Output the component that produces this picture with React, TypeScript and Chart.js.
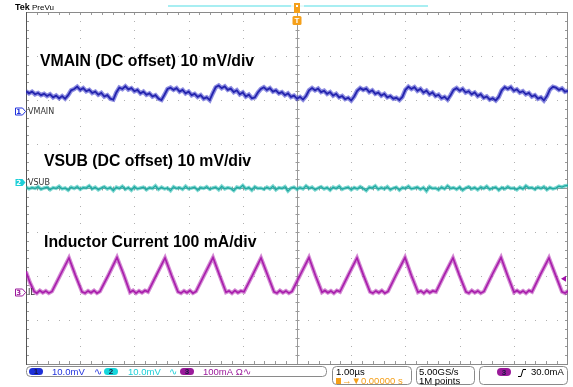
import React, { useEffect, useRef } from "react";
import { Chart, registerables } from "chart.js";

Chart.register(...registerables);

// ---- Data ----
const timeMinUs = -5;
const timeMaxUs = 5;
const divMin = -4;
const divMax = 4;

// Channel settings: screen position (divisions) of each channel's ground marker, and units per division
const channelNames = ["VMAIN", "VSUB", "IL"];
const channelPositionsDiv = [1.75, 0.14, -2.36];
const channelUnitsPerDiv = [10, 10, 100];
const channelTitles = [
  "VMAIN (DC offset) 10 mV/div",
  "VSUB (DC offset) 10 mV/div",
  "Inductor Current 100 mA/div",
];
const channelScaleTexts = ["10.0mV", "10.0mV", "100mA"];

// VMAIN ripple in mV (AC part above its marker), uniformly sampled over the 10 µs record
const vmainMv = [
  4.5, 4.0, 4.4, 3.8, 4.1, 3.6, 3.9, 3.4, 3.8, 3.1, 3.5, 2.9, 3.4, 2.8,
  3.6, 4.7, 5.0, 5.5,
  4.8, 5.2, 4.5, 4.8, 4.1, 4.4, 3.7, 4.1, 3.3, 3.6, 2.8, 2.6,
  4.2, 5.3, 5.0,
  5.6, 4.9, 5.2, 4.5, 4.8, 4.0, 4.4, 3.7, 4.0, 3.3, 3.6, 2.8, 2.5,
  3.7, 5.0, 5.3,
  4.8, 5.2, 4.4, 4.8, 4.0, 4.4, 3.6, 3.9, 3.2, 3.6, 2.8, 3.1, 2.5,
  4.0, 5.4, 5.8,
  5.2, 5.6, 4.8, 5.1, 4.3, 4.7, 3.8, 4.2, 3.3, 3.7, 2.9, 3.1,
  4.2, 5.0, 5.4,
  4.8, 5.2, 4.4, 4.7, 4.0, 4.3, 3.6, 4.0, 3.2, 3.5, 2.8, 3.2, 2.6,
  3.4, 4.7, 5.2,
  4.7, 5.1, 4.3, 4.6, 3.9, 4.3, 3.5, 3.9, 3.1, 3.4, 2.7, 3.0, 2.4,
  3.3, 4.6, 5.2,
  4.8, 5.1, 4.3, 4.7, 3.9, 4.2, 3.5, 3.9, 3.1, 3.4, 2.8, 3.0, 2.5,
  3.2, 4.8, 5.5,
  5.0, 5.4, 4.6, 5.0, 4.2, 4.6, 3.8, 4.2, 3.4, 3.7, 2.9, 3.2, 2.6,
  3.6, 4.8, 5.2,
  4.6, 5.0, 4.2, 4.5, 3.8, 4.2, 3.4, 3.8, 3.0, 3.3, 2.6, 2.9, 2.4,
  3.2, 4.7, 5.4,
  5.0, 5.4, 4.6, 4.9, 4.2, 4.5, 3.8, 4.1, 3.3, 3.6, 2.8, 3.1, 2.4,
  3.4, 4.9, 5.5,
  5.3, 4.8, 5.1, 4.4, 4.6,
];

// VSUB in mV relative to its marker, uniformly sampled
const vsubMv = [
  -1.2, -1.6, -1.3, -1.5, -1.1, -1.7, -1.4, -1.2, -1.8, -1.3,
  -1.5, -1.0, -1.6, -1.4, -1.9, -1.2, -1.5, -1.1, -1.7, -1.3,
  -1.4, -0.9, -1.6, -1.2, -1.8, -1.4, -1.1, -1.6, -1.3, -2.0,
  -1.2, -1.5, -1.0, -1.7, -1.3, -1.9, -1.1, -1.6, -1.4, -1.2,
  -1.8, -1.3, -1.5, -0.9, -1.7, -1.2, -1.6, -1.4, -2.0, -1.1,
  -1.5, -1.3, -1.7, -1.0, -1.6, -1.4, -1.2, -1.9, -1.3, -1.5,
  -1.1, -1.7, -1.4, -1.2, -1.8, -1.0, -1.6, -1.3, -1.5, -2.0,
  -1.2, -1.4, -0.8, -1.6, -1.3, -1.9, -1.1, -1.5, -1.4, -1.7,
  -1.2, -1.6, -1.0, -1.8, -1.3, -1.5, -1.1, -2.1, -1.4, -1.2,
  -1.7, -1.3, -1.6, -0.9, -1.5, -1.2, -1.8, -1.4, -1.1, -1.6,
  -1.3, -1.9, -1.2, -1.5, -1.0, -1.7, -1.4, -1.2, -1.8, -1.3,
  -1.6, -1.1, -1.5, -2.0, -1.2, -1.4, -0.9, -1.7, -1.3, -1.6,
  -1.1, -1.8, -1.4, -1.2, -1.9, -1.3, -1.5, -1.0, -1.6, -1.4,
  -1.2, -1.7, -1.3, -2.1, -1.1, -1.5, -1.4, -1.8, -1.2, -1.6,
  -0.9, -1.5, -1.3, -1.7, -1.2, -1.9, -1.4, -1.1, -1.6, -1.3,
  -1.8, -1.2, -1.5, -1.0, -1.7, -1.4, -1.2, -1.9, -1.3, -1.6,
  -1.1, -1.5, -1.4, -1.8, -1.2, -1.6, -0.9, -1.4, -1.3, -1.7,
  -1.2, -1.5, -1.1, -1.8, -1.3, -1.6, -1.4, -1.0, -1.2, -0.9,
  -0.8,
];

// Inductor current: sample times (µs) and values (mA)
const ilTimesUs = [
  -5.0, -4.93, -4.85, -4.8, -4.745, -4.69, -4.635, -4.58, -4.52, -4.36, -4.207, -4.09,
  -3.967, -3.91, -3.855, -3.8, -3.745, -3.69, -3.635, -3.48, -3.321, -3.2,
  -3.081, -3.025, -2.97, -2.915, -2.86, -2.805, -2.749, -2.59, -2.435, -2.315,
  -2.196, -2.14, -2.085, -2.03, -1.975, -1.92, -1.863, -1.705, -1.55, -1.43,
  -1.31, -1.255, -1.2, -1.145, -1.09, -1.035, -0.978, -0.82, -0.664, -0.545,
  -0.424, -0.37, -0.315, -0.26, -0.205, -0.15, -0.092, 0.065, 0.221, 0.34,
  0.461, 0.515, 0.57, 0.625, 0.68, 0.735, 0.793, 0.95, 1.107, 1.225,
  1.347, 1.4, 1.455, 1.51, 1.565, 1.62, 1.679, 1.835, 1.993, 2.11,
  2.232, 2.285, 2.34, 2.395, 2.45, 2.505, 2.565, 2.72, 2.878, 2.995,
  3.118, 3.17, 3.225, 3.28, 3.335, 3.39, 3.45, 3.605, 3.764, 3.885,
  4.004, 4.06, 4.115, 4.17, 4.225, 4.28, 4.336, 4.49, 4.649, 4.77,
  4.889, 4.945, 5.0,
];
const ilMa = [
  46, 22, 1, -3, 3, -2, 2, -3, 1, 40, 77, 38,
  0, -3, 2, -2, 3, -3, 1, 38, 78, 40,
  -1, 3, -3, 2, -2, 3, 0, 39, 77, 37,
  0, -3, 2, -2, 3, -3, 1, 40, 78, 38,
  -1, 2, -3, 3, -2, 2, 0, 38, 77, 39,
  0, -3, 3, -2, 2, -3, 1, 40, 78, 37,
  -1, 3, -2, 2, -3, 3, 0, 39, 77, 38,
  0, -3, 2, -2, 3, -3, 1, 40, 78, 37,
  -1, 2, -3, 3, -2, 2, 0, 39, 77, 38,
  0, -3, 3, -2, 2, -3, 1, 40, 78, 37,
  -1, 3, -2, 2, -3, 3, 0, 39, 77, 38,
  0, -3, 2,
];

const triggerLevelMa = 30;

// ---- colors ----
const COL_CH1 = "#16168e";
const COL_CH1_HALO = "rgba(50,50,200,0.55)";
const COL_CH2 = "#138a86";
const COL_CH2_HALO = "rgba(40,190,180,0.6)";
const COL_CH3 = "#a010a8";
const COL_CH3_HALO = "rgba(175,40,175,0.55)";
const COL_CH1_UI = "#2233dd";
const COL_CH2_UI = "#1ccfd8";
const COL_CH3_UI = "#9c1a9c";
const COL_ORANGE = "#f5a01a";

function uniformPoints(vals: number[], pos: number, unitsPerDiv: number) {
  const n = vals.length;
  return vals.map((v, i) => ({
    x: timeMinUs + (i * (timeMaxUs - timeMinUs)) / (n - 1),
    y: pos + v / unitsPerDiv,
  }));
}

function timedPoints(ts: number[], vals: number[], pos: number, unitsPerDiv: number) {
  return ts.map((t, i) => ({ x: t, y: pos + vals[i] / unitsPerDiv }));
}

const graticulePlugin = {
  id: "graticule",
  beforeDatasetsDraw(chart: any) {
    const ctx: CanvasRenderingContext2D = chart.ctx;
    const xs = chart.scales.x;
    const ys = chart.scales.y;
    const { left, right, top, bottom } = chart.chartArea;
    ctx.save();
    // dotted grid
    ctx.fillStyle = "#b0b0b0";
    for (let d = -4; d <= 4; d++) {
      if (d === 0) continue;
      const x = Math.round(xs.getPixelForValue(d));
      for (let m = -19; m <= 19; m++) {
        const y = Math.round(ys.getPixelForValue(m / 5));
        ctx.fillRect(x, y, 1, 1);
      }
    }
    for (let d = -3; d <= 3; d++) {
      if (d === 0) continue;
      const y = Math.round(ys.getPixelForValue(d));
      for (let m = -24; m <= 24; m++) {
        const x = Math.round(xs.getPixelForValue(m / 5));
        ctx.fillRect(x, y, 1, 1);
      }
    }
    // center lines
    ctx.strokeStyle = "#9a9a9a";
    ctx.lineWidth = 1;
    const cx = Math.round(xs.getPixelForValue(0)) + 0.5;
    const cy = Math.round(ys.getPixelForValue(0)) + 0.5;
    ctx.beginPath();
    ctx.moveTo(cx, top);
    ctx.lineTo(cx, bottom);
    ctx.moveTo(left, cy);
    ctx.lineTo(right, cy);
    // ticks on center lines and borders
    for (let m = -24; m <= 24; m++) {
      const x = Math.round(xs.getPixelForValue(m / 5)) + 0.5;
      ctx.moveTo(x, cy - 2);
      ctx.lineTo(x, cy + 2);
      ctx.moveTo(x, top);
      ctx.lineTo(x, top + 3);
      ctx.moveTo(x, bottom);
      ctx.lineTo(x, bottom - 3);
    }
    for (let m = -19; m <= 19; m++) {
      const y = Math.round(ys.getPixelForValue(m / 5)) + 0.5;
      ctx.moveTo(cx - 2, y);
      ctx.lineTo(cx + 2, y);
      ctx.moveTo(left, y);
      ctx.lineTo(left + 3, y);
      ctx.moveTo(right, y);
      ctx.lineTo(right - 3, y);
    }
    ctx.stroke();
    // border
    ctx.strokeStyle = "#8a8a8a";
    ctx.strokeRect(Math.round(left) + 0.5, Math.round(top) + 0.5, Math.round(right - left) - 1, Math.round(bottom - top));
    ctx.strokeStyle = "#555";
    ctx.beginPath();
    ctx.moveTo(Math.round(left) + 0.5, top);
    ctx.lineTo(Math.round(left) + 0.5, bottom + 1);
    ctx.stroke();
    ctx.restore();
  },
};

function pill(ctx: CanvasRenderingContext2D, x: number, y: number, w: number, h: number, fill: string, label: string) {
  ctx.fillStyle = fill;
  ctx.beginPath();
  ctx.roundRect(x, y, w, h, h / 2);
  ctx.fill();
  ctx.fillStyle = "#1a1a40";
  ctx.font = "bold 8px 'Liberation Sans', Arial, sans-serif";
  ctx.textAlign = "center";
  ctx.textBaseline = "middle";
  ctx.fillText(label, x + w / 2, y + h / 2 + 0.5);
  ctx.textAlign = "left";
  ctx.textBaseline = "alphabetic";
}

function marker(ctx: CanvasRenderingContext2D, y: number, color: string, label: string, filled: boolean) {
  const x0 = 15, x1 = 22, x2 = 25;
  ctx.beginPath();
  ctx.moveTo(x0 + 0.5, y - 3.5);
  ctx.lineTo(x1 + 0.5, y - 3.5);
  ctx.lineTo(x2 + 0.5, y);
  ctx.lineTo(x1 + 0.5, y + 3.5);
  ctx.lineTo(x0 + 0.5, y + 3.5);
  ctx.closePath();
  if (filled) {
    ctx.fillStyle = color;
    ctx.fill();
  } else {
    ctx.fillStyle = "#fff";
    ctx.fill();
    ctx.strokeStyle = color;
    ctx.lineWidth = 1;
    ctx.stroke();
  }
  ctx.fillStyle = filled ? "#fff" : color;
  ctx.font = "bold 7px 'DejaVu Sans', sans-serif";
  ctx.textAlign = "center";
  ctx.textBaseline = "middle";
  ctx.fillText(label, x0 + 3.8, y + 0.5);
  ctx.textAlign = "left";
  ctx.textBaseline = "alphabetic";
}

const overlayPlugin = {
  id: "overlay",
  afterDraw(chart: any) {
    const ctx: CanvasRenderingContext2D = chart.ctx;
    const ys = chart.scales.y;
    const xs = chart.scales.x;
    ctx.save();

    // Header
    ctx.fillStyle = "#000";
    ctx.font = "bold 9px 'Liberation Sans Narrow', 'Liberation Sans', Arial, sans-serif";
    ctx.fillText("Tek", 15, 10);
    ctx.font = "8px 'Liberation Sans', Arial, sans-serif";
    ctx.fillText("PreVu", 32, 10);

    // record position bar
    ctx.strokeStyle = "#a8eef2";
    ctx.lineWidth = 2;
    ctx.beginPath();
    ctx.moveTo(168, 6);
    ctx.lineTo(291, 6);
    ctx.moveTo(304, 6);
    ctx.lineTo(428, 6);
    ctx.stroke();
    ctx.strokeStyle = "#d0f6f8";
    ctx.lineWidth = 1;
    ctx.beginPath();
    ctx.moveTo(291, 6);
    ctx.lineTo(304, 6);
    ctx.stroke();

    // trigger position marker
    const tx = Math.round(xs.getPixelForValue(0));
    ctx.fillStyle = COL_ORANGE;
    ctx.fillRect(tx - 3, 3, 6, 10);
    ctx.fillStyle = "#fff";
    ctx.fillRect(tx - 1, 5, 2, 2);
    ctx.fillStyle = COL_ORANGE;
    ctx.beginPath();
    ctx.roundRect(tx - 4.5, 16, 9, 9, 1.5);
    ctx.fill();
    ctx.fillStyle = "#fff";
    ctx.font = "bold 8px 'Liberation Sans', Arial, sans-serif";
    ctx.textAlign = "center";
    ctx.textBaseline = "middle";
    ctx.fillText("T", tx, 21);
    ctx.textAlign = "left";
    ctx.textBaseline = "alphabetic";

    // big annotations
    ctx.fillStyle = "#000";
    ctx.font = "bold 15.8px 'Liberation Sans', Arial, sans-serif";
    ctx.fillText(channelTitles[0], 40, 66);
    ctx.fillText(channelTitles[1], 44, 166);
    ctx.fillText(channelTitles[2], 44, 247);

    // channel ground markers
    const chColors = [COL_CH1_UI, COL_CH2_UI, COL_CH3_UI];
    const filled = [false, true, false];
    for (let c = 0; c < 3; c++) {
      const y = Math.round(ys.getPixelForValue(channelPositionsDiv[c])) + 0.5;
      marker(ctx, y, chColors[c], String(c + 1), filled[c]);
      ctx.fillStyle = "#333";
      ctx.font = "8px 'DejaVu Sans', sans-serif";
      ctx.textBaseline = "middle";
      ctx.fillText(channelNames[c], 28, y);
      ctx.textBaseline = "alphabetic";
    }

    // trigger level arrow on right
    const ty = ys.getPixelForValue(channelPositionsDiv[2] + triggerLevelMa / channelUnitsPerDiv[2]);
    ctx.fillStyle = COL_CH3;
    ctx.beginPath();
    ctx.moveTo(561, ty);
    ctx.lineTo(566, ty - 3);
    ctx.lineTo(566, ty + 3);
    ctx.closePath();
    ctx.fill();

    // status bar
    ctx.strokeStyle = "#8a8a8a";
    ctx.lineWidth = 1;
    ctx.beginPath();
    ctx.roundRect(26.5, 366.5, 300, 10, 4);
    ctx.stroke();
    ctx.beginPath();
    ctx.roundRect(332.5, 366.5, 79, 18, 4);
    ctx.stroke();
    ctx.beginPath();
    ctx.roundRect(416.5, 366.5, 58, 18, 4);
    ctx.stroke();
    ctx.beginPath();
    ctx.roundRect(479.5, 366.5, 88, 18, 4);
    ctx.stroke();

    const statusFont = "9.5px 'Liberation Sans', Arial, sans-serif";
    pill(ctx, 29, 368, 14, 7, "#1d2fd8", "1");
    ctx.font = statusFont;
    ctx.fillStyle = COL_CH1_UI;
    ctx.fillText(channelScaleTexts[0], 52, 375);
    ctx.fillText("∿", 94, 375);
    pill(ctx, 104, 368, 14, 7, "#16d6dc", "2");
    ctx.font = statusFont;
    ctx.fillStyle = COL_CH2_UI;
    ctx.fillText(channelScaleTexts[1], 128, 375);
    ctx.fillText("∿", 169, 375);
    pill(ctx, 180, 368, 14, 7, "#9a1a9a", "3");
    ctx.font = statusFont;
    ctx.fillStyle = COL_CH3_UI;
    ctx.fillText(channelScaleTexts[2] + " Ω∿", 203, 375);

    ctx.fillStyle = "#000";
    ctx.fillText("1.00µs", 336, 375);
    ctx.fillStyle = COL_ORANGE;
    ctx.fillRect(336, 378, 5, 6);
    ctx.fillText("→▼0.00000 s", 342, 384);
    ctx.fillStyle = "#000";
    ctx.fillText("5.00GS/s", 419, 375);
    ctx.fillText("1M points", 419, 384);

    pill(ctx, 497, 368, 14, 8, "#9a1a9a", "3");
    ctx.strokeStyle = "#000";
    ctx.lineWidth = 1;
    ctx.beginPath();
    ctx.moveTo(518, 376.5);
    ctx.lineTo(521, 376.5);
    ctx.lineTo(523, 369.5);
    ctx.lineTo(526, 369.5);
    ctx.stroke();
    ctx.font = statusFont;
    ctx.fillStyle = "#000";
    ctx.fillText(triggerLevelMa.toFixed(1) + "mA", 531, 375);

    ctx.restore();
  },
};

export default function App() {
  const ref = useRef<HTMLCanvasElement>(null);
  useEffect(() => {
    document.body.style.margin = "0";
    const canvas = ref.current!;
    const ilPts = timedPoints(ilTimesUs, ilMa, channelPositionsDiv[2], channelUnitsPerDiv[2]);
    const vsubPts = uniformPoints(vsubMv, channelPositionsDiv[1], channelUnitsPerDiv[1]);
    const vmainPts = uniformPoints(vmainMv, channelPositionsDiv[0], channelUnitsPerDiv[0]);
    const chart = new Chart(canvas, {
      type: "line",
      data: {
        datasets: [
          { label: channelNames[2] + " halo", data: ilPts, borderColor: COL_CH3_HALO, borderWidth: 4 },
          { label: channelNames[2], data: ilPts, borderColor: COL_CH3, borderWidth: 1.6 },
          { label: channelNames[1] + " halo", data: vsubPts, borderColor: COL_CH2_HALO, borderWidth: 3.5 },
          { label: channelNames[1], data: vsubPts, borderColor: COL_CH2, borderWidth: 1.2 },
          { label: channelNames[0] + " halo", data: vmainPts, borderColor: COL_CH1_HALO, borderWidth: 4.5 },
          { label: channelNames[0], data: vmainPts, borderColor: COL_CH1, borderWidth: 1.8 },
        ],
      },
      options: {
        animation: false,
        responsive: false,
        devicePixelRatio: 1,
        layout: { padding: { left: 26, top: 12, right: 5, bottom: 23 } },
        plugins: { legend: { display: false }, tooltip: { enabled: false } },
        elements: { point: { radius: 0 }, line: { tension: 0 } },
        scales: {
          x: { type: "linear", min: timeMinUs, max: timeMaxUs, display: false },
          y: { type: "linear", min: divMin, max: divMax, display: false },
        },
      },
      plugins: [graticulePlugin, overlayPlugin],
    });
    return () => chart.destroy();
  }, []);
  return (
    <div style={{ position: "fixed", left: 0, top: 0, width: 573, height: 387, background: "#fff" }}>
      <canvas ref={ref} width={573} height={387} style={{ width: 573, height: 387, display: "block" }} />
    </div>
  );
}
